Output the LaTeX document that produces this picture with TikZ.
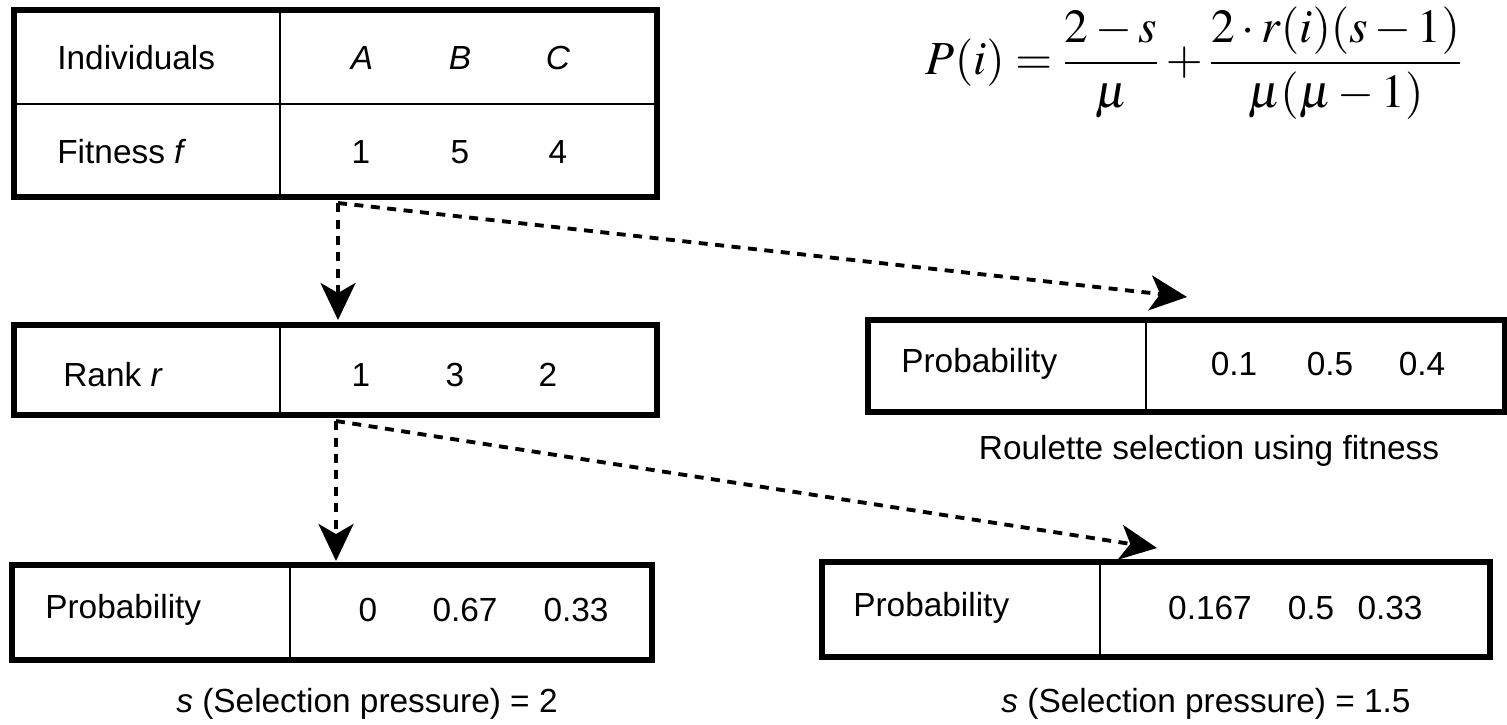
\documentclass[tikz,border=0pt]{standalone}
\usepackage{mathptmx}
\usepackage[no-math]{fontspec}
\setmainfont{Liberation Sans}
\usetikzlibrary{arrows.meta}
\begin{document}
\begin{tikzpicture}[x=0.02cm,y=-0.02cm,
  font=\fontsize{19}{23}\selectfont,
  frame/.style={line width=3pt},
  divline/.style={line width=1.6pt},
  conn/.style={line width=2.2pt, dash pattern=on 0.18cm off 0.15cm,
    -{Stealth[length=0.74cm,width=0.7cm,inset=0.2cm]}},
  lbl/.style={anchor=west, inner sep=0pt},
  num/.style={inner sep=0pt}]
\fill[white] (0,0) rectangle (1507,724);
\useasboundingbox (0,0) rectangle (1507,724);

% formula
\node (F) at (1194,63) {\fontsize{27}{32}\selectfont $\displaystyle P(i)=\frac{2-s}{\mu}+\frac{2\cdot r(i)(s-1)}{\mu(\mu-1)}$};

% top table
\draw[frame] (14,10) rectangle (657,197);
\draw[divline] (14,104) -- (657,104);
\draw[divline] (280,10) -- (280,197);
\node[lbl] (ind) at (57,58) {Individuals};
\node[num] (iA) at (362,58) {\textit{A}};
\node[num] (iB) at (460,58) {\textit{B}};
\node[num] (iC) at (558,58) {\textit{C}};
\node[lbl] (fit) at (57,152) {Fitness \textit{f}};
\node[num] (fA) at (361,152) {1};
\node[num] (fB) at (460,152) {5};
\node[num] (fC) at (558,152) {4};

% rank table
\draw[frame] (14,325) rectangle (657,415);
\draw[divline] (280,325) -- (280,415);
\node[lbl] (rank) at (63,375) {Rank \textit{r}};
\node[num] (rA) at (361,375) {1};
\node[num] (rB) at (455,375) {3};
\node[num] (rC) at (548,375) {2};

% roulette table
\draw[frame] (868,320) rectangle (1505,412);
\draw[divline] (1146,320) -- (1146,412);
\node[lbl] (p1) at (901,364) {Probability};
\node[num] (p1A) at (1234,364) {0.1};
\node[num] (p1B) at (1330,364) {0.5};
\node[num] (p1C) at (1422,364) {0.4};
\node (lab1) at (1209,451) {Roulette selection using fitness};

% bottom-left table
\draw[frame] (12,565) rectangle (652,660);
\draw[divline] (290,565) -- (290,660);
\node[lbl] (p2) at (45,610) {Probability};
\node[num] (p2A) at (368,610) {0};
\node[num] (p2B) at (465,610) {0.67};
\node[num] (p2C) at (576,610) {0.33};
\node (lab2) at (367,704) {\textit{s} (Selection pressure) = 2};

% bottom-right table
\draw[frame] (822,562) rectangle (1490,657);
\draw[divline] (1100,562) -- (1100,657);
\node[lbl] (p3) at (853,608) {Probability};
\node[num] (p3A) at (1210,608) {0.167};
\node[num] (p3B) at (1311,608) {0.5};
\node[num] (p3C) at (1390,608) {0.33};
\node (lab3) at (1206,704) {\textit{s} (Selection pressure) = 1.5};

% connectors
\coordinate (s1) at (338,203);
\coordinate (t1a) at (338,320);
\coordinate (t1b) at (1187,297);
\coordinate (s2) at (336,421);
\coordinate (t2a) at (336,561);
\coordinate (t2b) at (1157,548);
\draw[conn] (s1) -- (t1a);
\draw[conn] (s1) -- (t1b);
\draw[conn] (s2) -- (t2a);
\draw[conn] (s2) -- (t2b);
\end{tikzpicture}
\end{document}
